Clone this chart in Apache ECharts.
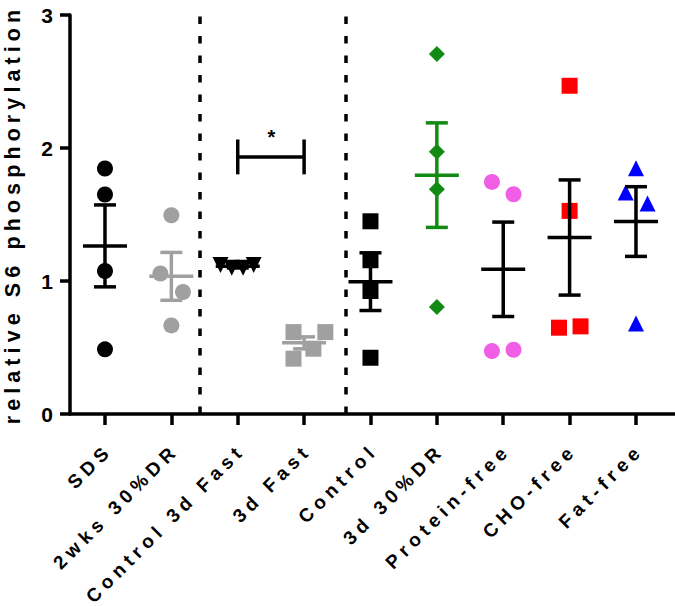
<!DOCTYPE html>
<html><head><meta charset="utf-8">
<script src="https://cdn.jsdelivr.net/npm/echarts@6/dist/echarts.min.js"></script>
<style>
html,body{margin:0;padding:0;background:#fff;}
#c{width:675px;height:606px;}
#c text{letter-spacing:5.1px;}
</style></head><body><div id="c"></div>
<script>
// ---- data ----
const categories = ['SDS','2wks 30%DR','Control 3d Fast','3d Fast','Control','3d 30%DR','Protein-free','CHO-free','Fat-free'];
const yTicks = [0, 1, 2, 3];
const sdsVals = [1.846, 1.650, 1.075, 0.486];
const wks2DrVals = [1.494, 1.056, 0.917, 0.666];
const ctrlFastVals = [1.12, 1.10, 1.10, 1.12];
const fast3dVals = [0.616, 0.616, 0.491, 0.416];
const controlVals = [1.449, 1.156, 0.925, 0.423];
const dr3dVals = [2.707, 1.971, 1.690, 0.804];
const proteinFreeVals = [1.745, 1.652, 0.473, 0.483];
const choFreeVals = [2.468, 1.527, 0.649, 0.659];
const fatFreeVals = [1.848, 1.666, 1.582, 0.681];
// horizontal scatter (in category units) used to avoid overlap
const sdsJit = [0, 0, 0, 0];
const wks2DrJit = [0, -0.165, 0.175, 0];
const ctrlFastJit = [-0.26, -0.09, 0.08, 0.24];
const fast3dJit = [-0.16, 0.32, 0.14, -0.16];
const controlJit = [0, 0, 0, 0];
const dr3dJit = [0, 0, 0, 0];
const proteinFreeJit = [-0.17, 0.155, -0.17, 0.155];
const choFreeJit = [0, 0, -0.16, 0.165];
const fatFreeJit = [0, -0.155, 0.175, 0];
const means = [1.264, 1.035, 1.11, 0.535, 0.995, 1.796, 1.088, 1.327, 1.447];
const sems  = [0.308, 0.180, 0.012, 0.045, 0.217, 0.393, 0.355, 0.433, 0.262];
const separators = [1.43, 3.63];
const sigPair = [2, 3];
const sigY = 1.933;
const sigLabel = '*';

// ---- styles ----
const FONT = 'Liberation Sans, Arial, sans-serif';
const pointColors = ['#000000','#a0a0a0','#000000','#a0a0a0','#000000','#138a13','#f05ee6','#ff0000','#0000ff'];
const barColors   = ['#000000','#a0a0a0','#000000','#a0a0a0','#000000','#138a13','#000000','#000000','#000000'];
const symbols = ['circle','circle','triangle','rect','rect','diamond','circle','rect','triangle'];
const rotations = [0,0,180,0,0,0,0,0,0];

const groups = [
  [sdsVals, sdsJit],[wks2DrVals, wks2DrJit],[ctrlFastVals, ctrlFastJit],[fast3dVals, fast3dJit],
  [controlVals, controlJit],[dr3dVals, dr3dJit],[proteinFreeVals, proteinFreeJit],
  [choFreeVals, choFreeJit],[fatFreeVals, fatFreeJit]
];
const xTickVals = categories.map((c, i) => i);

const scatterSeries = groups.map(([vals, jit], i) => ({
  type: 'scatter',
  name: categories[i],
  symbol: symbols[i],
  symbolSize: 16,
  symbolRotate: rotations[i],
  itemStyle: { color: pointColors[i], opacity: 1 },
  z: 2,
  silent: true,
  data: vals.map((v, k) => [i + jit[k], v])
}));

const errSeries = {
  type: 'custom',
  z: 5,
  silent: true,
  data: means.map((m, i) => [i, m, sems[i]]),
  renderItem: function (params, api) {
    const i = api.value(0), m = api.value(1), s = api.value(2);
    const c = api.coord([i, m]);
    const t = api.coord([i, m + s]);
    const b = api.coord([i, m - s]);
    const st = { stroke: barColors[params.dataIndex], lineWidth: 3.5, fill: null };
    return { type: 'group', children: [
      { type: 'line', shape: { x1: c[0], y1: t[1], x2: c[0], y2: b[1] }, style: st },
      { type: 'line', shape: { x1: c[0] - 11, y1: t[1], x2: c[0] + 11, y2: t[1] }, style: st },
      { type: 'line', shape: { x1: c[0] - 11, y1: b[1], x2: c[0] + 11, y2: b[1] }, style: st },
      { type: 'line', shape: { x1: c[0] - 22, y1: c[1], x2: c[0] + 22, y2: c[1] }, style: st }
    ]};
  },
  markLine: {
    silent: true,
    symbol: ['none', 'none'],
    label: { show: false },
    lineStyle: { color: '#000', width: 3.5, type: [7.5, 12] },
    data: separators.map(v => ({ xAxis: v }))
  }
};

const sigSeries = {
  type: 'custom',
  z: 6,
  silent: true,
  data: [[sigPair[0], sigPair[1], sigY]],
  renderItem: function (params, api) {
    const a = api.coord([api.value(0), api.value(2)]);
    const b = api.coord([api.value(1), api.value(2)]);
    const up = api.coord([api.value(0), api.value(2) + 0.131]);
    const dn = api.coord([api.value(0), api.value(2) - 0.131]);
    const st = { stroke: '#000', lineWidth: 3.5, fill: null };
    return { type: 'group', children: [
      { type: 'line', shape: { x1: a[0], y1: a[1], x2: b[0], y2: b[1] }, style: st },
      { type: 'line', shape: { x1: a[0], y1: up[1], x2: a[0], y2: dn[1] }, style: st },
      { type: 'line', shape: { x1: b[0], y1: up[1], x2: b[0], y2: dn[1] }, style: st },
      { type: 'text', style: { text: sigLabel, x: (a[0] + b[0]) / 2 + 3, y: up[1] - 2,
          align: 'center', verticalAlign: 'middle', fill: '#000', font: 'bold 20px ' + FONT } }
    ]};
  }
};

const chart = echarts.init(document.getElementById('c'), null, { renderer: 'svg' });
chart.setOption({
  animation: false,
  backgroundColor: '#fff',
  grid: { left: 70, right: 0, top: 15, bottom: 192, containLabel: false, outerBoundsMode: 'none' },
  xAxis: {
    type: 'value', min: -0.527, max: 8.588,
    splitLine: { show: false },
    axisLine: { show: true, onZero: false, lineStyle: { color: '#000', width: 3.5 } },
    axisTick: { show: true, length: 11, customValues: xTickVals, lineStyle: { color: '#000', width: 3.5 } },
    axisLabel: {
      customValues: xTickVals.map(v => v + 0.06),
      formatter: v => categories[Math.round(v)],
      rotate: 45, margin: 33, color: '#000', fontSize: 19, fontWeight: 'bold', fontFamily: FONT
    }
  },
  yAxis: {
    type: 'value', min: 0, max: 3, interval: 1,
    splitLine: { show: false },
    axisLine: { show: true, onZero: false, lineStyle: { color: '#000', width: 3.5 } },
    axisTick: { show: true, length: 10, lineStyle: { color: '#000', width: 3.5 } },
    axisLabel: {
      customValues: yTicks,
      margin: 12, color: '#000', fontSize: 21, fontWeight: 'bold', fontFamily: FONT
    },
    name: 'relative S6 phosphorylation', nameLocation: 'middle', nameGap: 46,
    nameTextStyle: { color: '#000', fontSize: 21.5, fontWeight: 'bold', fontFamily: FONT }
  },
  series: [...scatterSeries, errSeries, sigSeries]
});
</script></body></html>
